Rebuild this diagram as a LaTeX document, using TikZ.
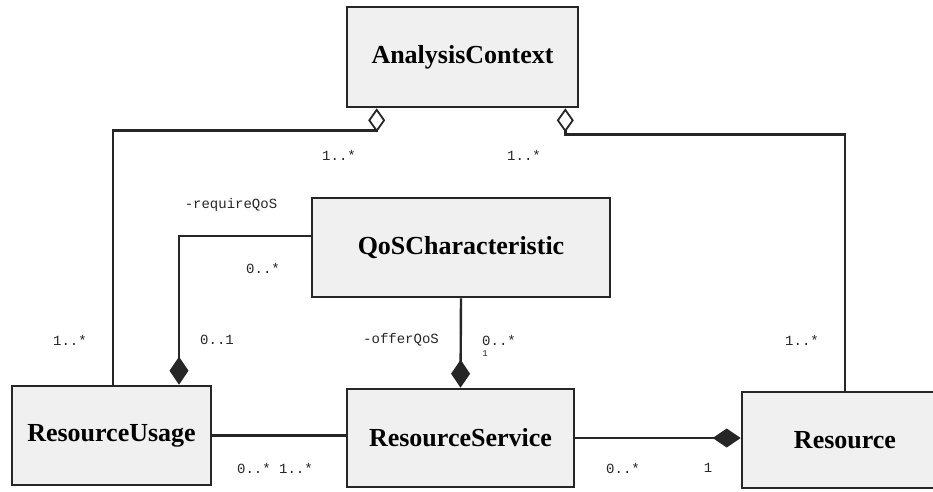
\documentclass[tikz,border=0pt]{standalone}
\usepackage{fontspec}
\setmainfont{Liberation Serif}
\newfontfamily\monof{Liberation Mono}
\usetikzlibrary{arrows.meta}
\begin{document}
\begin{tikzpicture}[x=1pt,y=-1pt,
  cls/.style={draw=black!85, line width=2.6pt, fill=black!6, inner sep=0pt,
    font=\fontsize{26}{30}\selectfont\bfseries},
  conn/.style={draw=black!85, line width=2.4pt},
  aggo/.style={conn, {Diamond[open,length=24pt,width=17pt,line width=1.8pt]}-},
  comp/.style={conn, -{Diamond[length=28pt,width=19pt]}},
  lbl/.style={font=\monof\fontsize{14}{16}\selectfont, text=black!85, inner sep=0pt}]
\useasboundingbox (0,0) rectangle (933,491);
\fill[white] (0,0) rectangle (933,491);
\clip (0,0) rectangle (933,491);

\node[cls, minimum width=231pt, minimum height=100pt] (ac) at (462.5,57) {AnalysisContext};
\node[cls, minimum width=298pt, minimum height=99pt] (qos) at (461,247.5) {QoSCharacteristic};
\node[cls, minimum width=199pt, minimum height=99pt] (ru) at (111.5,435.5) {ResourceUsage};
\node[cls, minimum width=227pt, minimum height=98pt] (rs) at (460.5,438) {ResourceService};
\node[cls, minimum width=206pt, minimum height=96pt] (res) at (845,440) {Resource};

% aggregations from AnalysisContext
\draw[aggo] ([xshift=31pt]ac.south west) -- ++(0,22) -| ([xshift=1.5pt]ru.north);
\draw[aggo] ([xshift=-14pt]ac.south east) -- ++(0,26) -| (res.north);

% requireQoS
\draw[comp] ([yshift=11.5pt]qos.west) -| ([xshift=67.5pt]ru.north);
% offerQoS
\draw[comp] (qos.south) -- (rs.north);
% usage - service
\draw[conn] (ru.east) -- (ru.east -| rs.west);
% service - resource
\draw[comp] (rs.east) -- (rs.east -| res.west);

% labels
\node[lbl] (m1) at (339,155) {1..*};
\node[lbl] (m2) at (524,155) {1..*};
\node[lbl] (rq) at (231,205) {-requireQoS};
\node[lbl] (m3) at (263,268) {0..*};
\node[lbl] (m4) at (70,340) {1..*};
\node[lbl] (m5) at (217,340) {0..1};
\node[lbl] (oq) at (401,340) {-offerQoS};
\node[lbl] (m6) at (499,340) {0..*};
\node[lbl, font=\monof\fontsize{9}{10}\selectfont] (m7) at (485,354) {1};
\node[lbl] (m8) at (802,340) {1..*};
\node[lbl] (m9) at (275,468) {0..* 1..*};
\node[lbl] (m10) at (623,468) {0..*};
\node[lbl] (m11) at (708,468) {1};
\end{tikzpicture}
\end{document}
